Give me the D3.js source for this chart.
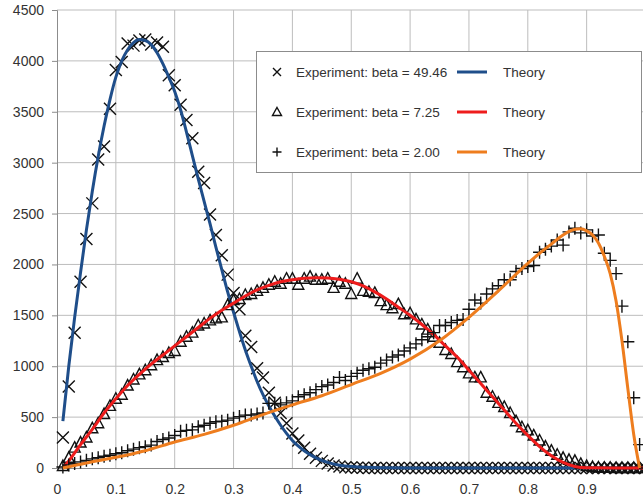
<!DOCTYPE html>
<html>
<head>
<meta charset="utf-8">
<script src="https://cdn.jsdelivr.net/npm/d3@7"></script>
<style>
  body { margin: 0; background: #fff; }
  svg { display: block; font-family: "Liberation Sans", Arial, sans-serif; }
</style>
</head>
<body>
<svg id="chart" width="643" height="504"></svg>
<script>
// sample positions of the experiments
var xs = [0.01,0.02,0.03,0.04,0.05,0.06,0.07,0.08,0.09,0.10,
  0.11,0.12,0.13,0.14,0.15,0.16,0.17,0.18,0.19,0.20,
  0.21,0.22,0.23,0.24,0.25,0.26,0.27,0.28,0.29,0.30,
  0.31,0.32,0.33,0.34,0.35,0.36,0.37,0.38,0.39,0.40,
  0.41,0.42,0.43,0.44,0.45,0.46,0.47,0.48,0.49,0.50,
  0.51,0.52,0.53,0.54,0.55,0.56,0.57,0.58,0.59,0.60,
  0.61,0.62,0.63,0.64,0.65,0.66,0.67,0.68,0.69,0.70,
  0.71,0.72,0.73,0.74,0.75,0.76,0.77,0.78,0.79,0.80,
  0.81,0.82,0.83,0.84,0.85,0.86,0.87,0.88,0.89,0.90,
  0.91,0.92,0.93,0.94,0.95,0.96,0.97,0.98,0.99,1.00];

// experiment, beta = 49.46
var exp1 = [300,800,1330,1830,2250,2600,3030,3160,3530,3910,
  3990,4170,4150,4200,4210,4160,4180,4140,3860,3760,
  3570,3420,3240,2910,2800,2490,2290,2090,1900,1720,
  1560,1300,1190,980,890,740,640,540,440,340,
  270,200,140,100,70,45,25,15,8,5,
  3,2,1,1,0,0,0,0,0,0,
  0,0,0,0,0,0,0,0,0,0,
  0,0,0,0,0,0,0,0,0,0,
  0,0,0,0,0,0,0,0,0,0,
  0,0,0,0,0,0,0,0,0,0];

// experiment, beta = 7.25
var exp2 = [20,100,200,250,300,390,440,530,610,680,
  720,810,870,920,960,1010,1060,1090,1130,1150,
  1240,1290,1330,1400,1420,1450,1470,1480,1600,1650,
  1660,1700,1710,1740,1770,1800,1830,1810,1860,1860,
  1800,1860,1880,1850,1850,1860,1770,1830,1810,1710,
  1860,1740,1730,1720,1640,1600,1570,1610,1510,1520,
  1460,1410,1360,1290,1230,1160,1120,1040,990,930,
  890,890,740,700,640,600,540,460,400,370,
  320,270,210,170,130,100,80,70,40,20,
  10,5,3,2,0,0,0,0,0,0];

// experiment, beta = 2.00
var exp3 = [10,30,45,60,75,90,100,115,125,140,
  150,170,185,200,210,225,260,280,295,320,
  360,370,375,405,420,440,455,460,470,490,
  505,520,520,530,540,635,635,620,640,660,
  700,720,740,770,800,815,840,890,860,900,
  930,960,975,990,1030,1060,1090,1110,1150,1180,
  1220,1260,1290,1330,1400,1400,1430,1450,1460,1560,
  1650,1620,1710,1760,1790,1850,1850,1930,1960,1980,
  1990,2120,2150,2180,2240,2190,2320,2355,2310,2340,
  2280,2290,2110,2040,1910,1590,1240,690,230,0];

// theory curves
var theory1X = [0.01,0.02,0.03,0.04,0.05,0.06,0.07,0.08,0.09,0.10,
  0.11,0.12,0.13,0.14,0.15,0.16,0.17,0.18,0.19,0.20,
  0.21,0.22,0.23,0.24,0.25,0.26,0.27,0.28,0.29,0.30,
  0.31,0.32,0.33,0.34,0.35,0.36,0.37,0.38,0.39,0.40,
  0.42,0.44,0.46,0.48,0.50,0.55,0.60,0.70,0.80,0.90,1.00];
var theory1 = [460,1000,1480,1920,2340,2720,3060,3360,3620,3840,
  4000,4110,4180,4210,4200,4160,4080,3970,3840,3700,
  3520,3300,3070,2840,2620,2400,2170,1950,1730,1530,
  1340,1160,1000,850,720,610,510,420,340,270,
  170,100,55,28,14,2,0,0,0,0,0];

var theory2X = [0.01,0.02,0.04,0.06,0.08,0.10,0.12,0.14,0.16,0.18,0.20,
  0.22,0.24,0.26,0.28,0.30,0.32,0.34,0.36,0.38,0.40,
  0.42,0.44,0.46,0.48,0.50,0.52,0.54,0.56,0.58,0.60,
  0.62,0.64,0.66,0.68,0.70,0.72,0.74,0.76,0.78,0.80,
  0.82,0.84,0.86,0.88,0.90,0.95,1.00];
var theory2 = [0,70,230,380,540,680,810,920,1020,1110,1200,
  1290,1380,1470,1550,1620,1690,1750,1795,1830,1850,
  1865,1870,1868,1855,1830,1790,1730,1660,1580,1500,
  1410,1310,1200,1090,960,830,700,570,440,320,
  210,120,55,15,2,0,0];

var theory3X = [0.01,0.05,0.10,0.15,0.20,0.25,0.30,0.35,0.40,0.45,0.50,
  0.55,0.60,0.65,0.70,0.75,0.80,0.82,0.84,0.86,0.88,0.89,
  0.90,0.91,0.92,0.93,0.94,0.95,0.96,0.97,0.98,0.99];
var theory3 = [0,50,105,170,255,330,420,525,620,710,820,
  930,1070,1250,1480,1740,2010,2110,2200,2290,2345,2350,
  2330,2290,2210,2080,1910,1640,1250,780,330,0];

// the 1.0 gridline sits just past the right edge, its label is cut away
var xTicks = [0,0.1,0.2,0.3,0.4,0.5,0.6,0.7,0.8,0.9];
var yTicks = [0,500,1000,1500,2000,2500,3000,3500,4000,4500];

var legendRows = [
  {label:"Experiment: beta = 49.46", marker:"x", color:"#1f4e8a"},
  {label:"Experiment: beta = 7.25", marker:"tri", color:"#ee1c1c"},
  {label:"Experiment: beta = 2.00", marker:"plus", color:"#ee7d1e"}
];

var svg = d3.select("#chart");
var x = d3.scaleLinear().domain([0, 1]).range([57, 645.5]);
var y = d3.scaleLinear().domain([0, 4500]).range([468, 10]);

var markerPath = {
  x: "M-6,-6L6,6M-6,6L6,-6",
  tri: "M0,-6L5.5,4.5L-5.5,4.5Z",
  plus: "M-6.5,0H6.5M0,-6.5V6.5"
};
var legendPath = {
  x: "M-4,-4L4,4M-4,4L4,-4",
  tri: "M0,-4.5L4.5,3.5L-4.5,3.5Z",
  plus: "M-4.5,0H4.5M0,-4.5V4.5"
};

// grid
svg.append("g").selectAll("line")
  .data(xTicks.slice(1).concat([1])).enter().append("line")
  .attr("x1", function(d){ return x(d); }).attr("x2", function(d){ return x(d); })
  .attr("y1", y(0)).attr("y2", y(4500))
  .attr("stroke", "#bdbdbd").attr("stroke-width", 1);
svg.append("g").selectAll("line")
  .data(yTicks.slice(1)).enter().append("line")
  .attr("x1", x(0)).attr("x2", x(1))
  .attr("y1", function(d){ return y(d); }).attr("y2", function(d){ return y(d); })
  .attr("stroke", "#bdbdbd").attr("stroke-width", 1);

// axes
var yAxis = svg.append("g")
  .attr("transform", "translate(" + x(0) + ",0)")
  .call(d3.axisLeft(y).tickValues(yTicks).tickSize(5).tickPadding(8)
    .tickFormat(d3.format("d")));
var xAxis = svg.append("g")
  .attr("transform", "translate(0," + y(0) + ")")
  .call(d3.axisBottom(x).tickValues(xTicks).tickSize(0).tickPadding(16)
    .tickFormat(function(d){ return d === 0 ? "0" : d3.format(".1f")(d); }));
[xAxis, yAxis].forEach(function(a){
  a.select(".domain").attr("stroke", "#8c8c8c");
  a.selectAll(".tick line").attr("stroke", "#8c8c8c");
  a.selectAll(".tick text").attr("fill", "#333").style("font-size", "14px");
});

var line = d3.line()
  .x(function(d){ return x(d[0]); })
  .y(function(d){ return y(d[1]); })
  .curve(d3.curveMonotoneX);

function drawMarkers(vals, shape, strokeW) {
  svg.append("g").selectAll("path")
    .data(d3.zip(xs, vals)).enter().append("path")
    .attr("transform", function(d){ return "translate(" + x(d[0]) + "," + y(d[1]) + ")"; })
    .attr("d", markerPath[shape])
    .attr("fill", "none")
    .attr("stroke", "#111")
    .attr("stroke-width", strokeW);
}
function drawTheory(tx, tv, color) {
  svg.append("path")
    .datum(d3.zip(tx, tv))
    .attr("d", line)
    .attr("fill", "none")
    .attr("stroke", color)
    .attr("stroke-width", 3);
}

drawMarkers(exp1, "x", 1.4);
drawTheory(theory1X, theory1, legendRows[0].color);
drawMarkers(exp2, "tri", 1.4);
drawTheory(theory2X, theory2, legendRows[1].color);
drawMarkers(exp3, "plus", 1.4);
drawTheory(theory3X, theory3, legendRows[2].color);

// legend
var lg = svg.append("g");
lg.append("rect")
  .attr("x", 256.5).attr("y", 51.5).attr("width", 385).attr("height", 121)
  .attr("fill", "#fff").attr("stroke", "#8c8c8c").attr("stroke-width", 1);
var rows = lg.selectAll("g.row").data(legendRows).enter().append("g")
  .attr("transform", function(d, i){ return "translate(0," + (72 + i * 40) + ")"; });
rows.append("path")
  .attr("transform", "translate(277,0)")
  .attr("d", function(d){ return legendPath[d.marker]; })
  .attr("fill", "none").attr("stroke", "#111").attr("stroke-width", 1.4);
rows.append("text")
  .attr("x", 296).attr("dy", "0.35em")
  .style("font-size", "13.5px").attr("fill", "#333")
  .text(function(d){ return d.label; });
rows.append("line")
  .attr("x1", 457).attr("x2", 487)
  .attr("stroke", function(d){ return d.color; }).attr("stroke-width", 3);
rows.append("text")
  .attr("x", 503).attr("dy", "0.35em")
  .style("font-size", "13.5px").attr("fill", "#333")
  .text("Theory");
</script>
</body>
</html>
